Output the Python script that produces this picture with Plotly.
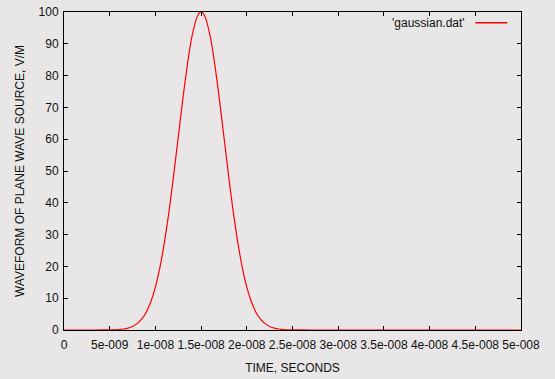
import plotly.graph_objects as go

# time in nanoseconds
time_ns = [0, 1, 2, 3, 4, 5, 5.5, 6, 6.5, 7, 7.5, 8, 8.5, 9, 9.5, 10, 10.5, 11, 11.5,
           12, 12.5, 13, 13.5, 14, 14.5, 14.75, 15, 15.25, 15.5, 16, 16.5, 17, 17.5,
           18, 18.5, 19, 19.5, 20, 20.5, 21, 21.5, 22, 22.5, 23, 23.5, 24, 24.5, 25,
           26, 28, 30, 35, 40, 45, 50]
field = [0, 0, 0, 0, 0.01, 0.03, 0.07, 0.15, 0.31, 0.6, 1.1, 2.0, 3.4, 5.6, 8.9, 13.5,
         19.8, 27.8, 37.5, 48.7, 60.7, 72.6, 83.5, 92.3, 98.0, 99.5, 100, 99.5, 98.0,
         92.3, 83.5, 72.6, 60.7, 48.7, 37.5, 27.8, 19.8, 13.5, 8.9, 5.6, 3.4, 2.0,
         1.1, 0.6, 0.31, 0.15, 0.07, 0.03, 0.01, 0, 0, 0, 0, 0, 0]

x_tick_vals = [0, 5e-9, 1e-8, 1.5e-8, 2e-8, 2.5e-8, 3e-8, 3.5e-8, 4e-8, 4.5e-8, 5e-8]
x_tick_text = ["0", "5e-009", "1e-008", "1.5e-008", "2e-008", "2.5e-008", "3e-008",
               "3.5e-008", "4e-008", "4.5e-008", "5e-008"]
y_tick_vals = [0, 10, 20, 30, 40, 50, 60, 70, 80, 90, 100]

series_name = "'gaussian.dat'"
x_title = "TIME, SECONDS"
y_title = "WAVEFORM OF PLANE WAVE SOURCE, V/M"

bg = "#e8e6e6"
font = dict(family="Liberation Sans, Arial, sans-serif", size=12, color="#111111")

fig = go.Figure()
fig.add_trace(go.Scatter(
    x=[t * 1e-9 for t in time_ns], y=field, mode="lines",
    line=dict(color="#ff0000", width=1.2, shape="spline", smoothing=0.5),
    name=series_name, showlegend=False, hoverinfo="skip",
))

axis_common = dict(
    showline=True, linecolor="black", linewidth=1, mirror="ticks",
    ticks="inside", ticklen=4, tickcolor="black", tickwidth=1,
    showgrid=False, zeroline=False, tickfont=font, layer="below traces",
    automargin=False,
)

fig.update_xaxes(range=[0, 5e-8], tickmode="array", tickvals=x_tick_vals,
                 ticktext=x_tick_text, title=dict(text=x_title, font=font, standoff=12),
                 ticklabelstandoff=4, **axis_common)
fig.update_yaxes(range=[0, 100], tickmode="array", tickvals=y_tick_vals,
                 title=dict(text=y_title, font=font, standoff=11), ticklabelstandoff=2,
                 **axis_common)

# gnuplot-style legend: text then line sample
fig.add_annotation(x=0.882, y=0.966, xref="paper", yref="paper", text=series_name,
                   showarrow=False, xanchor="right", yanchor="middle", font=font)
fig.add_shape(type="line", xref="paper", yref="paper", x0=0.90, x1=0.970,
              y0=0.966, y1=0.966, line=dict(color="#ff0000", width=1.5))

fig.update_layout(
    width=555, height=379,
    margin=dict(l=64, r=34, t=12, b=49),
    paper_bgcolor=bg, plot_bgcolor=bg,
    font=font,
)

fig.write_html("out.html",
               config={"displayModeBar": False},
               post_script="document.body.style.margin='0';"
                           "document.body.style.background='#e8e6e6';")
